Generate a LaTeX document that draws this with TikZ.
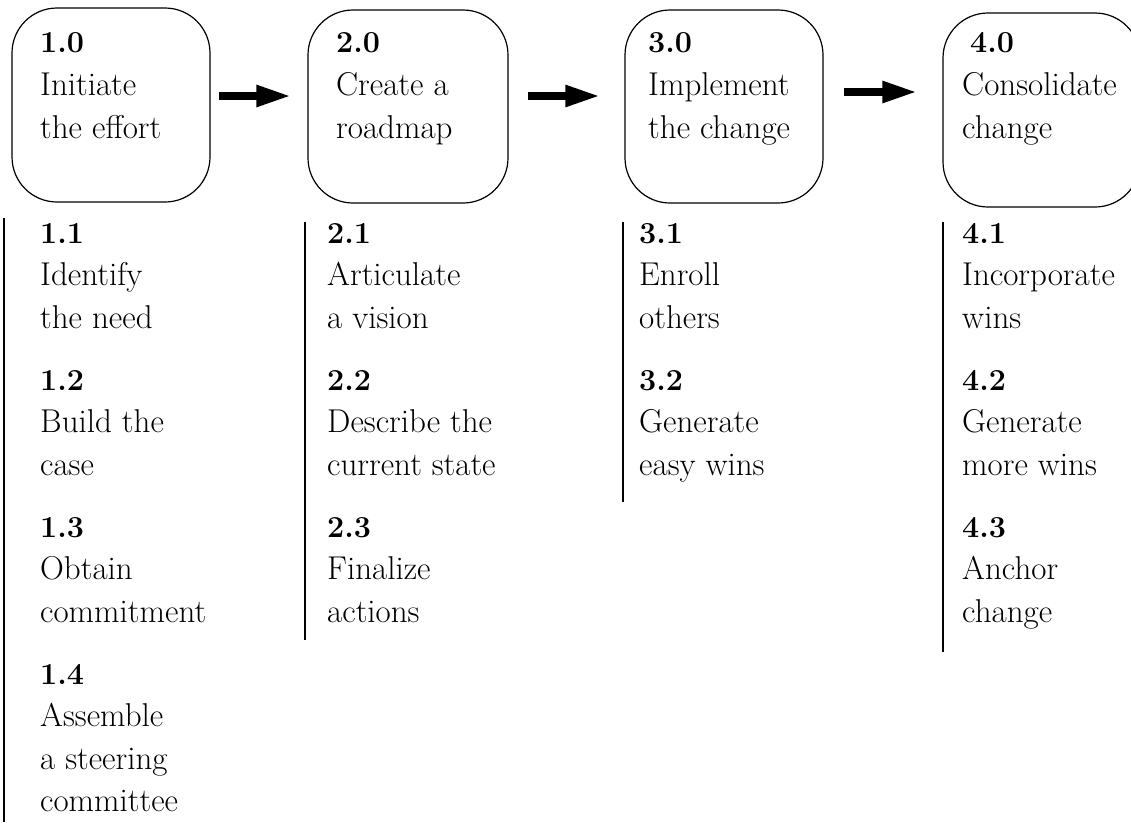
\documentclass[tikz,border=0pt]{standalone}
\usetikzlibrary{arrows.meta}

% a stack of left-aligned lines; the node baseline is the first line's baseline
\newcommand\linestack[2]{\vtop{\fontsize{33}{#1}\selectfont\halign{##\hfil\cr#2\crcr}}}
% bold step number
\newcommand\stepno[1]{{\fontsize{30.5}{30.5}\selectfont\textbf{#1}}}

\tikzset{
  phasebox/.style={draw=black, line width=1.2pt, rounded corners=45pt,
    inner sep=0pt, fill=none},
  boxtext/.style={anchor=base west, inner sep=0pt},
  itemtext/.style={anchor=base west, inner sep=0pt},
  rule/.style={draw=black, line width=1.3pt},
  bigarrow/.style={line width=8pt,
    -{Triangle[length=35pt 0 0, width=20pt 0 0]}},
}

\begin{document}
\begin{tikzpicture}[x=1pt, y=-1pt]
  \useasboundingbox (0,0) rectangle (1131,822);
  \clip (0,0) rectangle (1131,822);
  \fill[white] (0,0) rectangle (1131,822);

  % phase boxes
  \node[phasebox, minimum width=198pt, minimum height=194pt] (b1) at (111,105) {};
  \node[phasebox, minimum width=200pt, minimum height=193pt] (b2) at (408,106.5) {};
  \node[phasebox, minimum width=198pt, minimum height=193pt] (b3) at (724,106.5) {};
  \node[phasebox, minimum width=197pt, minimum height=194pt] (b4) at (1041.5,110) {};

  % phase titles
  \node[boxtext] (h1) at (40,52)  {\linestack{43}{\stepno{1.0}\cr Initiate\cr the effort}};
  \node[boxtext] (h2) at (336,52) {\linestack{43}{\stepno{2.0}\cr Create a\cr roadmap}};
  \node[boxtext] (h3) at (648,52) {\linestack{43}{\stepno{3.0}\cr Implement\cr the change}};
  \node[boxtext] (h4n) at (970,52) {\linestack{43}{\stepno{4.0}}};
  \node[boxtext] (h4) at (962,95) {\linestack{43}{Consolidate\cr change}};

  % arrows between phases
  \coordinate (ya) at (0,96);
  \coordinate (yb) at (0,96);
  \coordinate (yc) at (0,92);
  \draw[bigarrow, shorten <=8pt, shorten >=16pt] (b1.east |- ya) -- (b2.west |- ya);
  \draw[bigarrow, shorten <=19pt, shorten >=24pt] (b2.east |- yb) -- (b3.west |- yb);
  \draw[bigarrow, shorten <=20pt, shorten >=25pt] (b3.east |- yc) -- (b4.west |- yc);

  % column rules
  \draw[rule] (4,218) -- (4,822);
  \draw[rule] (305,222) -- (305,640);
  \draw[rule] (623,222) -- (623,502);
  \draw[rule] (943,222) -- (943,652);

  % column 1
  \node[itemtext] (s11) at (40,243) {\linestack{42.5}{\stepno{1.1}\cr Identify\cr the need}};
  \node[itemtext] (s12) at (40,390) {\linestack{42.5}{\stepno{1.2}\cr Build the\cr case}};
  \node[itemtext] (s13) at (40,537) {\linestack{42.5}{\stepno{1.3}\cr Obtain\cr commitment}};
  \node[itemtext] (s14) at (40,684) {\linestack{42.5}{\stepno{1.4}\cr Assemble\cr a steering\cr committee}};

  % column 2
  \node[itemtext] (s21) at (327,243) {\linestack{42.5}{\stepno{2.1}\cr Articulate\cr a vision}};
  \node[itemtext] (s22) at (327,390) {\linestack{42.5}{\stepno{2.2}\cr Describe the\cr current state}};
  \node[itemtext] (s23) at (327,537) {\linestack{42.5}{\stepno{2.3}\cr Finalize\cr actions}};

  % column 3
  \node[itemtext] (s31) at (639,243) {\linestack{42.5}{\stepno{3.1}\cr Enroll\cr others}};
  \node[itemtext] (s32) at (639,390) {\linestack{42.5}{\stepno{3.2}\cr Generate\cr easy wins}};

  % column 4
  \node[itemtext] (s41) at (962,243) {\linestack{42.5}{\stepno{4.1}\cr Incorporate\cr wins}};
  \node[itemtext] (s42) at (962,390) {\linestack{42.5}{\stepno{4.2}\cr Generate\cr more wins}};
  \node[itemtext] (s43) at (962,537) {\linestack{42.5}{\stepno{4.3}\cr Anchor\cr change}};
\end{tikzpicture}
\end{document}
